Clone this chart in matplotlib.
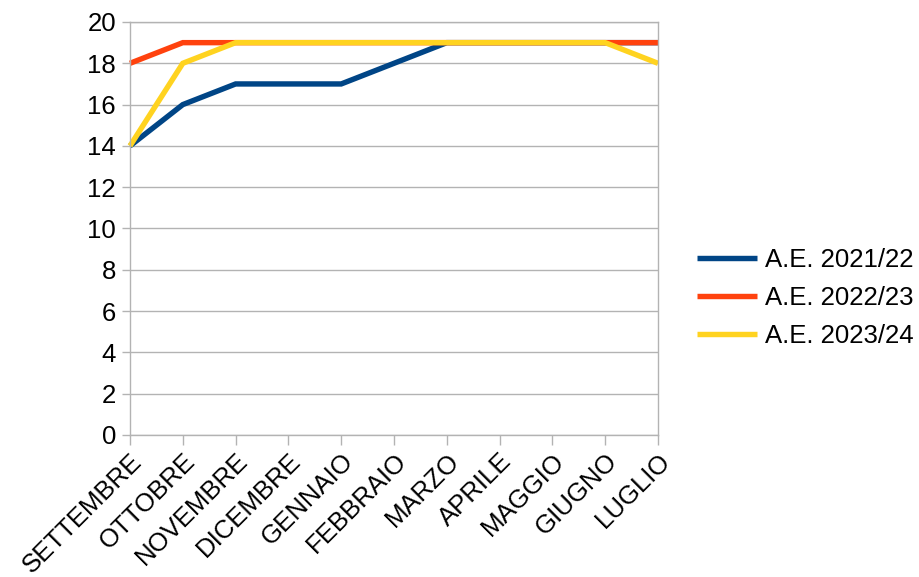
import matplotlib
matplotlib.use("Agg")
import matplotlib.pyplot as plt

plt.rcParams['font.family'] = ['Liberation Sans', 'DejaVu Sans']

mesi = ["SETTEMBRE", "OTTOBRE", "NOVEMBRE", "DICEMBRE", "GENNAIO", "FEBBRAIO",
        "MARZO", "APRILE", "MAGGIO", "GIUGNO", "LUGLIO"]
ae_2021_22 = [14, 16, 17, 17, 17, 18, 19, 19, 19, 19, 19]
ae_2022_23 = [18, 19, 19, 19, 19, 19, 19, 19, 19, 19, 19]
ae_2023_24 = [14, 18, 19, 19, 19, 19, 19, 19, 19, 19, 18]
serie = [("A.E. 2021/22", ae_2021_22, "#004586"),
         ("A.E. 2022/23", ae_2022_23, "#ff420e"),
         ("A.E. 2023/24", ae_2023_24, "#ffd320")]
y_ticks = list(range(0, 21, 2))

W, H = 920, 577
FS = 18.5
fig = plt.figure(figsize=(W / 100, H / 100), dpi=100)
ax = fig.add_axes([130 / W, 1 - 435 / H, (658 - 130) / W, (435 - 22) / H])

x = list(range(len(mesi)))
for nome, valori, colore in serie:
    ax.plot(x, valori, color=colore, lw=3.9, label=nome, solid_joinstyle='miter',
            solid_capstyle='butt', clip_on=False)

grid_col = "#b3b3b3"
ax.set_xlim(0, len(mesi) - 1)
ax.set_ylim(0, 20)
ax.set_yticks(y_ticks)
ax.set_xticks(x)
ax.set_xticklabels(mesi, rotation=45, ha='right', va='top', rotation_mode='anchor')
ax.yaxis.grid(True, color=grid_col, lw=1)
ax.set_axisbelow(True)
for s in ax.spines.values():
    s.set_color(grid_col)
    s.set_linewidth(1)
ax.tick_params(axis='both', colors=grid_col, labelcolor='black', labelsize=FS, width=1)
ax.tick_params(axis='x', length=7, pad=3)
ax.tick_params(axis='y', length=6, pad=4)

leg = fig.legend(loc='center left', bbox_to_anchor=(697 / W, 1 - 298 / H), frameon=False,
                 fontsize=FS, handlelength=2.33, handletextpad=0.3, labelspacing=0.55,
                 borderpad=0, borderaxespad=0)

fig.savefig("out.png", dpi=100)
